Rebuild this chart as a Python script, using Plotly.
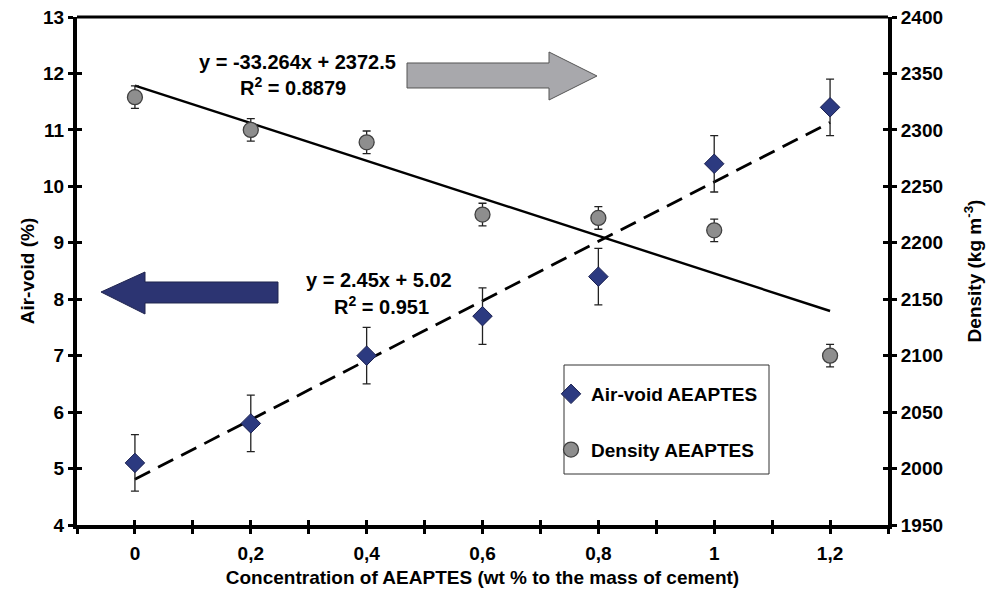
import numpy as np
import plotly.graph_objects as go

# ---- data ----
concentration = [0, 0.2, 0.4, 0.6, 0.8, 1.0, 1.2]
tick_labels = ["0", "0,2", "0,4", "0,6", "0,8", "1", "1,2"]
air_void = [5.1, 5.8, 7.0, 7.7, 8.4, 10.4, 11.4]
air_void_err = [0.5, 0.5, 0.5, 0.5, 0.5, 0.5, 0.5]
density = [2329, 2300, 2289, 2225, 2222, 2211, 2100]
density_err = [10, 10, 10, 10, 10, 10, 10]

FONT = "Liberation Sans"
NAVY = "#2C3A80"
GRAY = "#8E8E8E"

# layout geometry (pixels)
W, H = 992, 600
ML, MR, MT, MB = 77, 104, 17, 75
PW, PH = W - ML - MR, H - MT - MB


def px(x):
    return (x - ML) / PW


def py(y):
    return (H - MB - y) / PH


# trend lines by least squares
xa = np.array(concentration)
ca = np.polyfit(xa, np.array(air_void), 1)
cd = np.polyfit(xa, np.array(density), 1)
xl = np.array([concentration[0], concentration[-1]])

fig = go.Figure()

fig.add_trace(go.Scatter(
    x=xl, y=np.polyval(ca, xl), mode="lines", xaxis="x", yaxis="y",
    line=dict(color="black", width=2.8, dash="17px,9px"), showlegend=False, hoverinfo="skip"))
fig.add_trace(go.Scatter(
    x=xl, y=np.polyval(cd, xl), mode="lines", xaxis="x", yaxis="y2",
    line=dict(color="black", width=2.4), showlegend=False, hoverinfo="skip"))

fig.add_trace(go.Scatter(
    x=concentration, y=air_void, mode="markers", name="Air-void AEAPTES",
    xaxis="x", yaxis="y", legendgroup="a",
    marker=dict(symbol="diamond", size=15, color=NAVY, line=dict(color="#1A2050", width=1)),
    error_y=dict(type="data", array=air_void_err, visible=True, color="#222222", thickness=1.3, width=4)))
fig.add_trace(go.Scatter(
    x=concentration, y=density, mode="markers", name="Density AEAPTES",
    xaxis="x", yaxis="y2", legendgroup="b",
    marker=dict(symbol="circle", size=15, color=GRAY, line=dict(color="#404040", width=1.3)),
    error_y=dict(type="data", array=density_err, visible=True, color="#222222", thickness=1.3, width=4)))

# dummy traces for overlay axes (inward tick halves)
fig.add_trace(go.Scatter(x=[None], y=[None], xaxis="x3", yaxis="y3", showlegend=False, hoverinfo="skip"))
fig.add_trace(go.Scatter(x=[None], y=[None], xaxis="x3", yaxis="y4", showlegend=False, hoverinfo="skip"))

all_xticks = [v - 0.1 for v in concentration] + [1.3] + concentration
tickfont = dict(family=FONT, size=19, color="black", weight="bold")
titlefont = dict(family=FONT, size=19, color="black", weight="bold")

fig.update_layout(
    width=W, height=H,
    margin=dict(l=ML, r=MR, t=MT, b=MB, autoexpand=False),
    paper_bgcolor="white", plot_bgcolor="white",
    font=dict(family=FONT, color="black"),
    xaxis=dict(
        range=[-0.1, 1.3], tickvals=concentration, ticktext=tick_labels, automargin=False,
        showgrid=False, zeroline=False, showline=True, linecolor="black", linewidth=4,
        mirror=False, ticks="outside", ticklen=5, tickwidth=3, tickcolor="black",
        minor=dict(tickvals=[v - 0.1 for v in concentration] + [1.3], ticks="outside",
                   ticklen=5, tickwidth=3, tickcolor="black"),
        tickfont=tickfont, ticklabelstandoff=3,
        title=dict(text="Concentration of AEAPTES (wt % to the mass of cement)",
                   font=titlefont, standoff=9),
    ),
    xaxis3=dict(range=[-0.1, 1.3], overlaying="x", anchor="y3", tickvals=all_xticks, automargin=False,
                showticklabels=False, ticks="inside", ticklen=5, tickwidth=3, tickcolor="black",
                showgrid=False, zeroline=False, showline=False),
    yaxis=dict(
        range=[4, 13], dtick=1, showgrid=False, zeroline=False, showline=True, automargin=False,
        linecolor="black", linewidth=4, ticks="outside", ticklen=5, tickwidth=3, tickcolor="black",
        tickfont=tickfont,
        title=dict(text="Air-void (%)", font=titlefont, standoff=4),
    ),
    yaxis3=dict(range=[4, 13], dtick=1, overlaying="y", side="left", anchor="x3", automargin=False,
                showticklabels=False, ticks="inside", ticklen=5, tickwidth=3, tickcolor="black",
                showgrid=False, zeroline=False, showline=False),
    yaxis2=dict(
        range=[1950, 2400], dtick=50, overlaying="y", side="right", anchor="x", automargin=False,
        showgrid=False, zeroline=False, showline=True, linecolor="black", linewidth=4,
        ticks="outside", ticklen=5, tickwidth=3, tickcolor="black", tickfont=tickfont,
        title=dict(text="Density (kg m<sup>-3</sup>)", font=titlefont, standoff=27),
    ),
    yaxis4=dict(range=[1950, 2400], dtick=50, overlaying="y", side="right", anchor="x3", automargin=False,
                showticklabels=False, ticks="inside", ticklen=5, tickwidth=3, tickcolor="black",
                showgrid=False, zeroline=False, showline=False),
    legend=dict(
        x=px(551), y=py(375), xanchor="left", yanchor="top",
        bgcolor="rgba(0,0,0,0)", borderwidth=0,
        font=dict(family=FONT, size=19, color="black", weight="bold"),
        tracegroupgap=28, itemwidth=30,
    ),
    showlegend=True,
)

# top border
fig.add_shape(type="line", xref="paper", yref="paper", x0=0, x1=1, y0=1, y1=1,
              line=dict(color="black", width=3))

# legend frame
fig.add_shape(type="rect", xref="paper", yref="paper", x0=px(564), x1=px(769), y0=py(474), y1=py(365),
              fillcolor="white", line=dict(color="#333333", width=1), layer="above")

# arrows (decorations)
gray_arrow = [(407, 63), (549, 63), (549, 52), (597, 76), (549, 100), (549, 88), (407, 88)]
blue_arrow = [(101, 292), (145, 272), (145, 282), (278, 282), (278, 303), (145, 303), (145, 314)]


def path(pts):
    s = "M " + " L ".join(f"{px(a):.5f},{py(b):.5f}" for a, b in pts) + " Z"
    return s


fig.add_shape(type="path", xref="paper", yref="paper", path=path(gray_arrow),
              fillcolor="#A8A8AC", line=dict(color="#555555", width=1))
fig.add_shape(type="path", xref="paper", yref="paper", path=path(blue_arrow),
              fillcolor="#2C3472", line=dict(color="#20254F", width=1))

ann_font = dict(family=FONT, size=20, color="black", weight="bold")
ann = [
    (297, 62, "y = -33.264x + 2372.5"),
    (293, 87, "R<sup>2</sup> = 0.8879"),
    (379, 280, "y = 2.45x + 5.02"),
    (381, 305, "R<sup>2</sup> = 0.951"),
]
for ax_, ay_, t in ann:
    fig.add_annotation(xref="paper", yref="paper", x=px(ax_), y=py(ay_), text=t,
                       xanchor="center", yanchor="middle", showarrow=False, font=ann_font)

fig.write_html("out.html")
